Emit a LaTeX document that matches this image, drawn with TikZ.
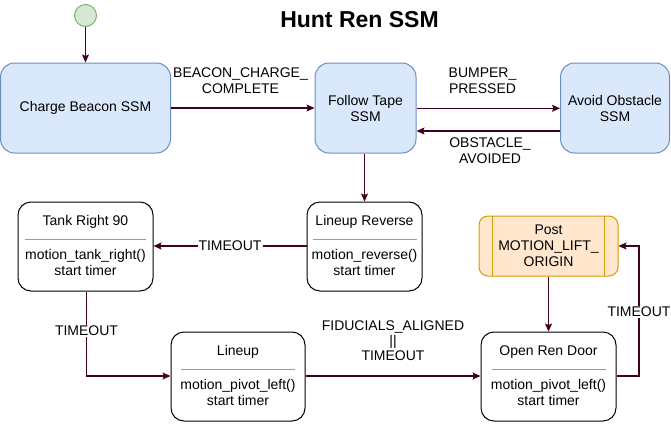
\documentclass[tikz,border=0pt]{standalone}
\usepackage{fontspec}
\setmainfont{Liberation Sans}
\usetikzlibrary{arrows.meta}
\definecolor{arr}{RGB}{64,0,32}
\definecolor{bfill}{HTML}{DAE8FC}
\definecolor{bdraw}{HTML}{6C8EBF}
\definecolor{gfill}{HTML}{D5E8D4}
\definecolor{gdraw}{HTML}{82B366}
\definecolor{ofill}{HTML}{FFE6CC}
\definecolor{odraw}{HTML}{D79B00}
\tikzset{
  every node/.style={font=\fontsize{14}{16}\selectfont, inner sep=0pt},
  bluebox/.style={draw=bdraw, fill=bfill, line width=1pt, rounded corners=14pt, align=center},
  statebox/.style={draw=black, fill=white, line width=1pt, rounded corners=13pt},
  txt/.style={align=center},
  lbl/.style={align=center, fill=white, inner sep=1pt},
  conn/.style={draw=arr, line width=1.1pt, -{Stealth[length=8pt,width=7pt,inset=1.5pt]}},
  sep/.style={draw=black!40, line width=0.8pt},
}
\begin{document}
\begin{tikzpicture}[x=1pt,y=-1pt]
\useasboundingbox (0,0) rectangle (671,423);
\fill[white] (0,0) rectangle (671,423);

\node[font=\fontsize{23}{26}\selectfont\bfseries] (title) at (359.5,20) {Hunt Ren SSM};

\node[circle, draw=gdraw, fill=gfill, line width=1pt, minimum size=22pt] (init) at (85.5,15.5) {};

\node[bluebox, minimum width=170pt, minimum height=90pt] (charge) at (85.5,108) {Charge Beacon SSM};
\node[bluebox, minimum width=101pt, minimum height=90pt] (follow) at (365.5,108) {Follow Tape\\SSM};
\node[bluebox, minimum width=109pt, minimum height=90pt] (avoid) at (615,108) {Avoid Obstacle\\SSM};

% state boxes
\node[statebox, minimum width=115pt, minimum height=89pt] (lrev) at (364.5,246.5) {};
\node[txt] (lrevt) at (364.5,222) {Lineup Reverse};
\draw[sep] (313,239) -- (417,239);
\node[txt] (lrevb) at (364.5,262) {motion\_reverse()\\start timer};

\node[statebox, minimum width=135pt, minimum height=89pt] (tank) at (85.5,246.5) {};
\node[txt] (tankt) at (85.5,222) {Tank Right 90};
\draw[sep] (25,239) -- (146,239);
\node[txt] (tankb) at (85.5,262) {motion\_tank\_right()\\start timer};

\node[statebox, minimum width=134pt, minimum height=89pt] (lineup) at (238,376.5) {};
\node[txt] (lineupt) at (238,352) {Lineup};
\draw[sep] (181,369) -- (295,369);
\node[txt] (lineupb) at (238,392) {motion\_pivot\_left()\\start timer};

\node[statebox, minimum width=135pt, minimum height=89pt] (open) at (548.5,376.5) {};
\node[txt] (opent) at (548.5,352) {Open Ren Door};
\draw[sep] (492,369) -- (606,369);
\node[txt] (openb) at (548.5,392) {motion\_pivot\_left()\\start timer};

\node[draw=odraw, fill=ofill, line width=1pt, rounded corners=9pt, minimum width=139pt, minimum height=60pt] (post) at (548.5,246) {};
\draw[draw=odraw, line width=1pt] (492.7,216) -- (492.7,276) (604.3,216) -- (604.3,276);
\node[txt] (postt) at (548.5,246) {Post\\MOTION\_LIFT\_\\ORIGIN};

% connectors
\draw[conn] (init) -- (charge);
\draw[conn] (charge) -- (follow);
\node[txt] (l1) at (240.5,81) {BEACON\_CHARGE\_\\COMPLETE};
\draw[conn] (follow.east |- 0,108.3) -- (avoid.west |- 0,108.3);
\node[txt] (l2) at (482.5,81) {BUMPER\_\\PRESSED};
\draw[conn] (avoid.west |- 0,131) -- (follow.east |- 0,131);
\node[txt] (l3) at (490,151) {OBSTACLE\_\\AVOIDED};
\draw[conn] (follow.south -| lrev.north) -- (lrev.north);
\draw[conn] (lrev.west |- 0,246) -- node[lbl] (l4) {TIMEOUT} (tank.east |- 0,246);
\coordinate (c1) at (86.5,376);
\draw[conn] (tank.south -| c1) -- (c1) -- (lineup.west |- c1);
\node[lbl] (l5) at (86.5,331) {TIMEOUT};
\draw[conn] (lineup.east |- 0,376) -- (open.west |- 0,376);
\node[txt] (l6) at (393,341) {FIDUCIALS\_ALIGNED\\[-1pt]||\\[-1pt]TIMEOUT};
\draw[conn] (post.south) -- (open.north);
\coordinate (c2) at (639,376);
\coordinate (c3) at (639,246);
\draw[conn] (open.east |- c2) -- (c2) -- (c3) -- (post.east);
\node[lbl] (l7) at (639,312) {TIMEOUT};
\end{tikzpicture}
\end{document}
